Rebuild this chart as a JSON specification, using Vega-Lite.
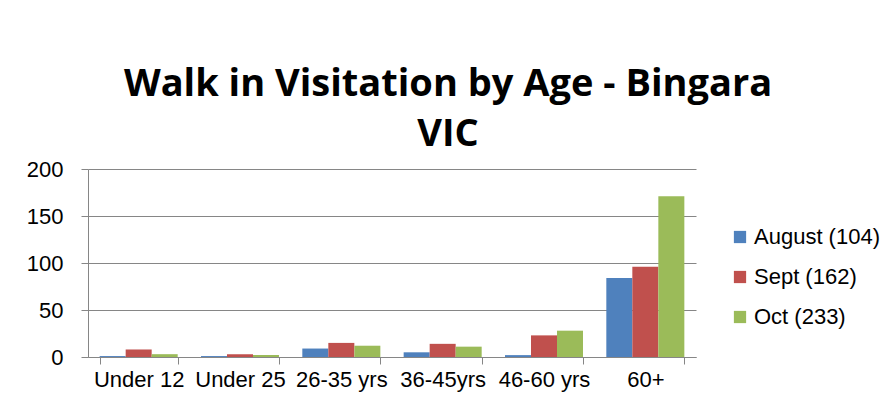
{
  "$schema": "https://vega.github.io/schema/vega-lite/v6.json",
  "autosize": "none",
  "width": 608,
  "height": 188,
  "padding": {"left": 88, "top": 169, "right": 200, "bottom": 52},
  "background": "white",
  "title": {
    "text": ["Walk in Visitation by Age - Bingara", "VIC"],
    "font": "Open Sans",
    "fontWeight": "bold",
    "fontSize": 38,
    "lineHeight": 50,
    "color": "black",
    "anchor": "middle",
    "dx": 56,
    "offset": 4
  },
  "data": {
    "values": [
      {"age": "Under 12", "month": "August (104)", "count": 1},
      {"age": "Under 12", "month": "Sept (162)", "count": 8},
      {"age": "Under 12", "month": "Oct (233)", "count": 3},
      {"age": "Under 25", "month": "August (104)", "count": 1},
      {"age": "Under 25", "month": "Sept (162)", "count": 3},
      {"age": "Under 25", "month": "Oct (233)", "count": 2},
      {"age": "26-35 yrs", "month": "August (104)", "count": 9},
      {"age": "26-35 yrs", "month": "Sept (162)", "count": 15},
      {"age": "26-35 yrs", "month": "Oct (233)", "count": 12},
      {"age": "36-45yrs", "month": "August (104)", "count": 5},
      {"age": "36-45yrs", "month": "Sept (162)", "count": 14},
      {"age": "36-45yrs", "month": "Oct (233)", "count": 11},
      {"age": "46-60 yrs", "month": "August (104)", "count": 2},
      {"age": "46-60 yrs", "month": "Sept (162)", "count": 23},
      {"age": "46-60 yrs", "month": "Oct (233)", "count": 28},
      {"age": "60+", "month": "August (104)", "count": 84},
      {"age": "60+", "month": "Sept (162)", "count": 96},
      {"age": "60+", "month": "Oct (233)", "count": 171}
    ]
  },
  "mark": {"type": "bar", "stroke": null},
  "encoding": {
    "x": {
      "field": "age",
      "type": "nominal",
      "sort": null,
      "scale": {"paddingInner": 0.23, "paddingOuter": 0.115},
      "axis": {
        "title": null,
        "labelAngle": 0,
        "labelFont": "Liberation Sans",
        "labelFontSize": 22,
        "labelColor": "black",
        "labelPadding": 5,
        "tickBand": "extent",
        "tickSize": 7,
        "tickColor": "#868686",
        "domainColor": "#868686",
        "grid": false
      }
    },
    "xOffset": {"field": "month", "type": "nominal", "sort": null},
    "y": {
      "field": "count",
      "type": "quantitative",
      "scale": {"domain": [0, 200], "nice": false},
      "axis": {
        "title": null,
        "values": [0, 50, 100, 150, 200],
        "labelFont": "Liberation Sans",
        "labelFontSize": 22,
        "labelColor": "black",
        "labelPadding": 18,
        "tickSize": 7,
        "tickColor": "#868686",
        "domainColor": "#868686",
        "gridColor": "#868686",
        "gridWidth": 1
      }
    },
    "color": {
      "field": "month",
      "type": "nominal",
      "sort": null,
      "scale": {"range": ["#4F81BD", "#C0504D", "#9BBB59"]},
      "legend": {
        "title": null,
        "orient": "none",
        "legendX": 641,
        "legendY": 57,
        "symbolType": "square",
        "symbolSize": 150,
        "symbolStrokeWidth": 0,
        "labelFont": "Liberation Sans",
        "labelFontSize": 22,
        "labelColor": "black",
        "labelOffset": 3,
        "rowPadding": 18
      }
    }
  },
  "config": {"view": {"stroke": null}}
}
